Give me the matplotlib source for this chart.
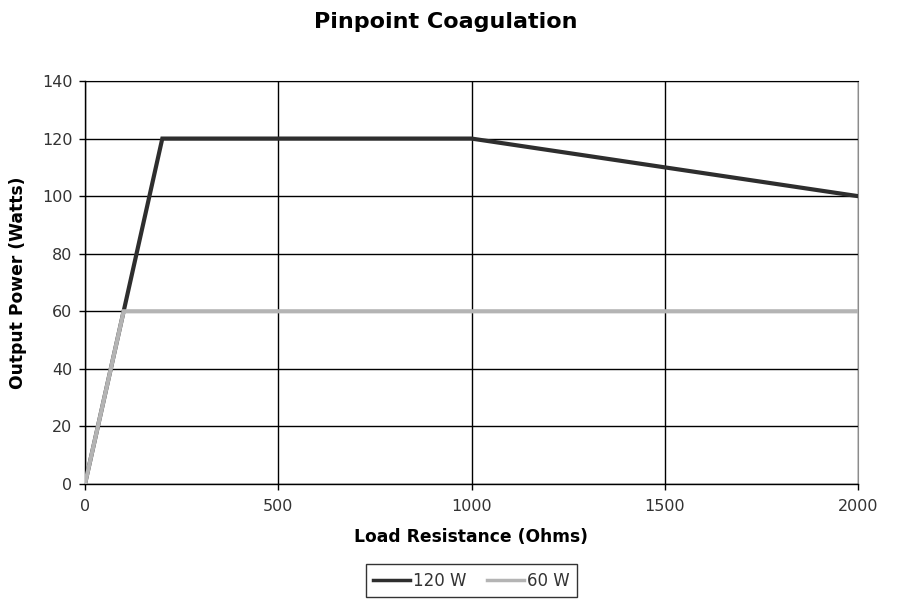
import matplotlib
matplotlib.use("Agg")
import matplotlib.pyplot as plt

# Output power curves for the pinpoint coagulation mode
resistance_120 = [0, 100, 200, 1000, 1500, 2000]
power_120 = [0, 60, 120, 120, 110, 100]
resistance_60 = [0, 100, 1000, 2000]
power_60 = [0, 60, 60, 60]

x_ticks = [0, 500, 1000, 1500, 2000]
y_ticks = [0, 20, 40, 60, 80, 100, 120, 140]

plt.rcParams['font.family'] = ['DejaVu Sans']

W, H = 899, 603
fig = plt.figure(figsize=(W / 100, H / 100), dpi=100)
ax = fig.add_axes([85 / W, 1 - 484 / H, (858 - 85) / W, (484 - 81) / H])

ax.plot(resistance_120, power_120, color='#2e2e2e', lw=3.0, label='120 W',
        solid_joinstyle='miter', zorder=3)
ax.plot(resistance_60, power_60, color='#b4b4b4', lw=3.0, label='60 W',
        solid_joinstyle='miter', zorder=4)

ax.set_xlim(0, 2000)
ax.set_ylim(0, 140)
ax.set_xticks(x_ticks)
ax.set_yticks(y_ticks)
ax.grid(True, color='black', lw=1.0)
ax.set_axisbelow(True)

for side in ('left', 'bottom'):
    ax.spines[side].set_color('black')
    ax.spines[side].set_linewidth(1.0)
ax.spines['right'].set_color('#8c8c8c')
ax.spines['top'].set_color('black')

ax.tick_params(axis='both', direction='out', length=4, width=1,
               labelsize=11.5, colors='black', labelcolor='#333333')
ax.tick_params(axis='y', pad=5)
ax.tick_params(axis='x', pad=7)

fig.text(0.4955, 1 - 22 / H, 'Pinpoint Coagulation', fontsize=16,
         fontweight='bold', ha='center', va='center')
fig.text(471.5 / W, 1 - 537 / H, 'Load Resistance (Ohms)', fontsize=12.3,
         fontweight='bold', ha='center', va='center')
fig.text(18 / W, 1 - 283 / H, 'Output Power (Watts)', fontsize=12.3,
         fontweight='bold', ha='center', va='center', rotation=90)

leg = fig.legend(handles=ax.get_lines(), loc='center',
                 bbox_to_anchor=(471.5 / W, 1 - 580.5 / H), ncol=2,
                 frameon=True, fancybox=False, fontsize=12, handlelength=2.2,
                 handletextpad=0.2, columnspacing=1.2, borderpad=0.45)
leg.get_frame().set_edgecolor('black')
leg.get_frame().set_linewidth(1.0)
for t in leg.get_texts():
    t.set_color('#333333')
for ln in leg.get_lines():
    ln.set_linewidth(2.5)

fig.savefig('out.png', dpi=100)
